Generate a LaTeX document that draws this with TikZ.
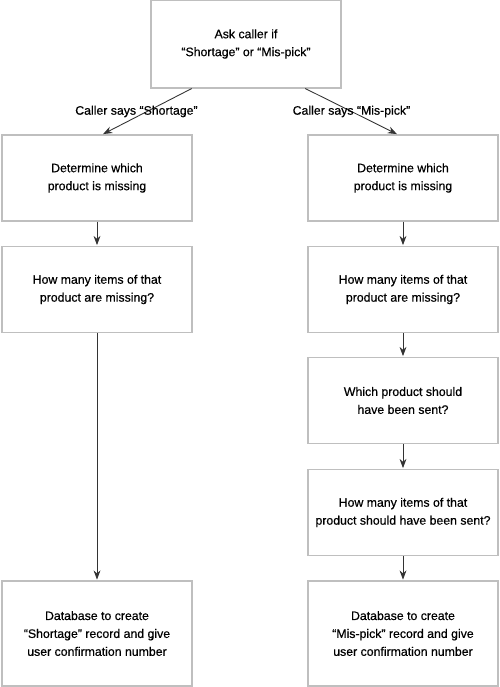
\documentclass[tikz,border=0pt]{standalone}
\usepackage{fontspec}
\setmainfont{Liberation Sans}[BoldFont={Liberation Sans}, BoldFeatures={FakeBold=0.5}]
\usepackage{tikz}
\usetikzlibrary{positioning, arrows.meta, calc}

\begin{document}
\begin{tikzpicture}[
    x=0.02cm, y=-0.02cm,
    >=Stealth,
    box/.style={
        draw=black!25, line width=0.6pt, minimum width=3.8cm, minimum height=1.72cm,
        font=\fontsize{7}{10.2}\selectfont\bfseries, align=center, inner sep=2pt
    },
    tallbox/.style={box, minimum height=2.1cm},
    arr/.style={->, draw=black!80, line width=0.5pt, shorten >=0.5pt},
    lbl/.style={font=\fontsize{7}{10.2}\selectfont\bfseries, inner sep=1pt},
]
\useasboundingbox (0,0) rectangle (500,687);

% Question
\node[box, minimum height=1.76cm] (ask) at (246,44) {Ask caller if\\“Shortage” or “Mis-pick”};

% Shortage branch
\node[box] (sprod) at (97,178) {Determine which\\product is missing};
\node[box] (sqty) at (97,289.5) {How many items of that\\product are missing?};
\node[tallbox] (sdb) at (97,633.5) {Database to create\\“Shortage” record and give\\user confirmation number};

% Mis-pick branch
\node[box] (mprod) at (403,178) {Determine which\\product is missing};
\node[box] (mqty) at (403,289.5) {How many items of that\\product are missing?};
\node[box] (mwhich) at (403,400.5) {Which product should\\have been sent?};
\node[box] (msent) at (403,512.5) {How many items of that\\product should have been sent?};
\node[tallbox] (mdb) at (403,633.5) {Database to create\\“Mis-pick” record and give\\user confirmation number};

% Branching arrows
\draw[arr] ($(ask.south west)!0.216!(ask.south east)$) -- node[lbl, pos=0.5, xshift=-6pt] {Caller says “Shortage”} ([xshift=3pt]sprod.north);
\draw[arr] ($(ask.south west)!0.81!(ask.south east)$) -- node[lbl, pos=0.5] {Caller says “Mis-pick”} ([xshift=-3pt]mprod.north);

% Shortage arrows
\draw[arr] (sprod) -- (sqty);
\draw[arr] (sqty) -- (sdb);

% Mis-pick arrows
\draw[arr] (mprod) -- (mqty);
\draw[arr] (mqty) -- (mwhich);
\draw[arr] (mwhich) -- (msent);
\draw[arr] (msent) -- (mdb);

\end{tikzpicture}
\end{document}
